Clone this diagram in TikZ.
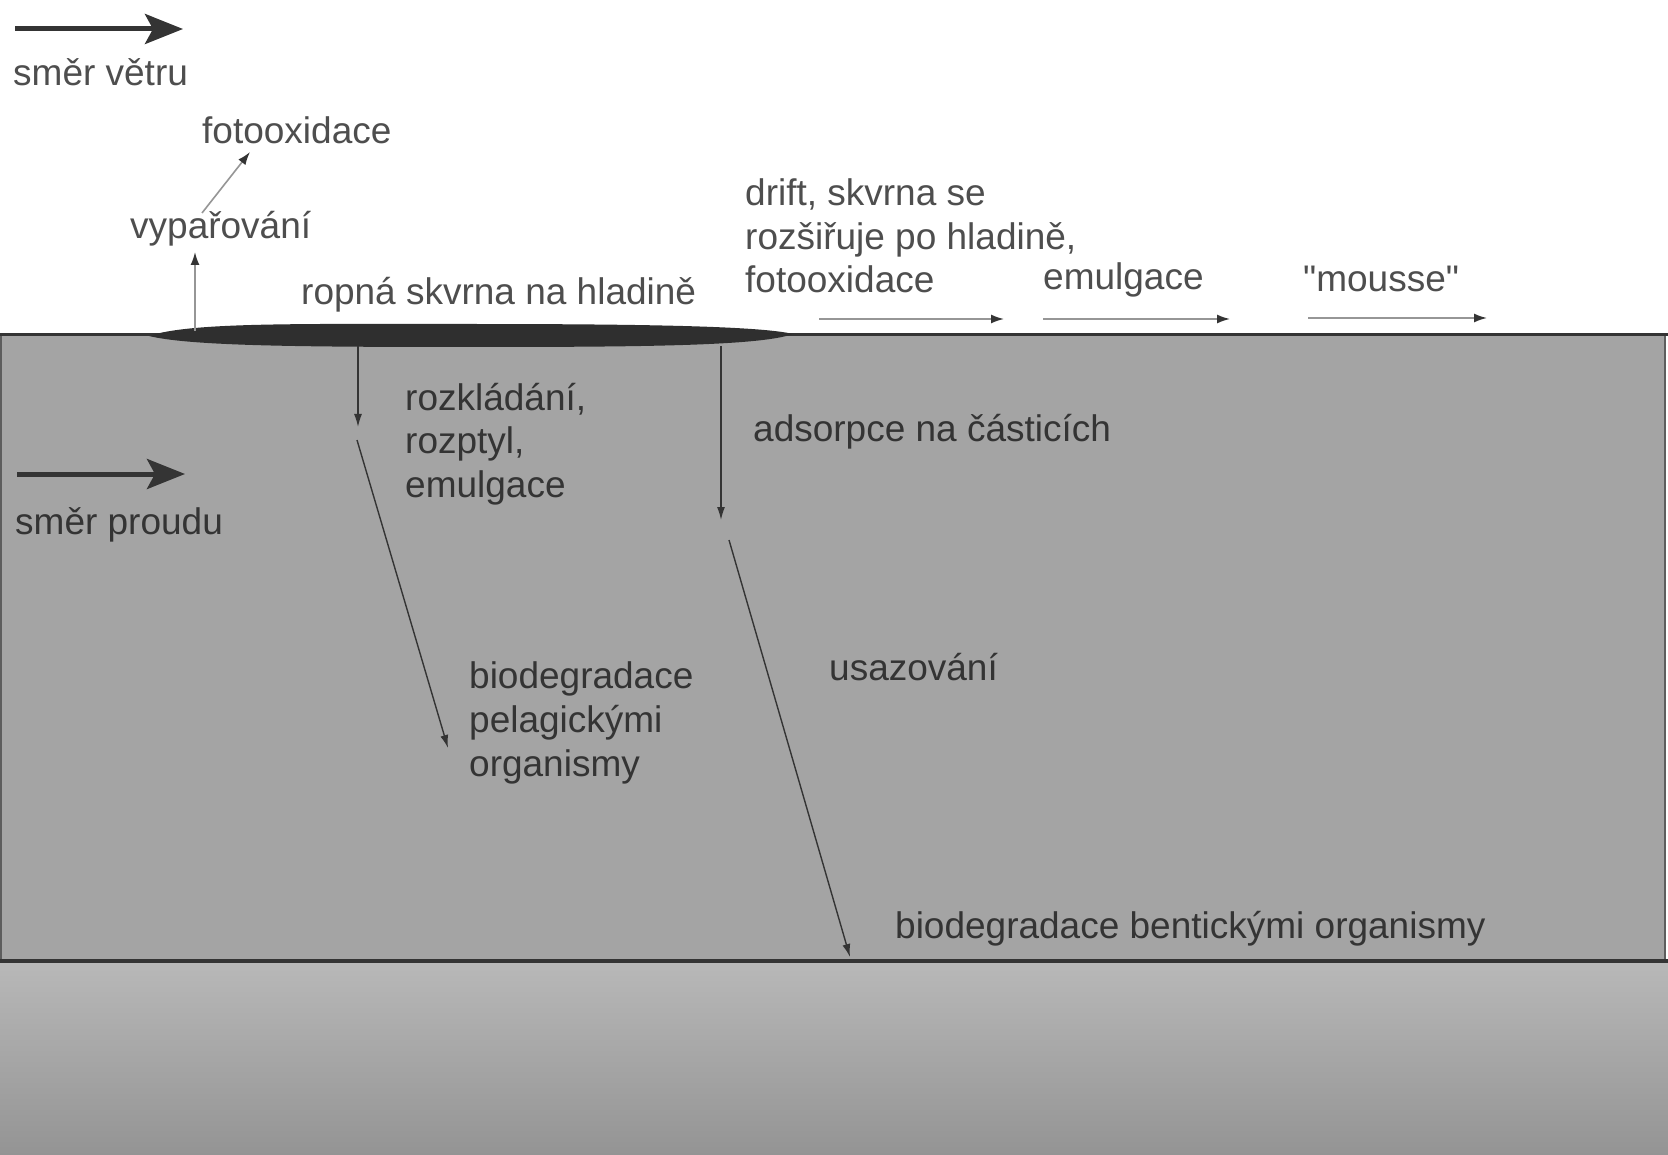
\documentclass[tikz,border=0pt]{standalone}
\usepackage{fontspec}
\setmainfont{Liberation Sans}[Ligatures=TeXOff]
\usetikzlibrary{arrows.meta}
\definecolor{water}{RGB}{164,164,164}
\definecolor{sedtop}{RGB}{184,184,184}
\definecolor{sedbot}{RGB}{148,148,148}
\definecolor{ink}{RGB}{52,52,52}
\definecolor{inkair}{RGB}{78,78,78}
\definecolor{shaft}{RGB}{150,150,150}
\begin{document}
\begin{tikzpicture}[x=1pt,y=-1pt,
  lbl/.style={anchor=west,inner sep=0pt,align=left,font=\fontsize{37}{43.6}\selectfont,text=ink},
  lblair/.style={lbl,text=inkair},
  deeparrow/.style={draw=ink,line width=1.4pt,-{Latex[length=13pt,width=8pt]}},
  airarrow/.style={draw=shaft,line width=1.6pt,-{Latex[length=13pt,width=9pt,color=ink]}},
  bigarrow/.style={draw=ink,line width=5pt,-{Stealth[length=38pt,width=30pt,inset=8pt]}},
]
\useasboundingbox (0,0) rectangle (1668,1155);
\fill[white] (0,0) rectangle (1668,1155);
% water and sediment
\fill[water] (0,335) rectangle (1666,961);
\shade[top color=sedtop,bottom color=sedbot] (0,962) rectangle (1668,1155);
\draw[ink!80,line width=1.2pt] (1,335) -- (1,961) (1665,335) -- (1665,961);
\draw[ink,line width=3pt] (0,335) -- (1668,335);
\draw[ink,line width=4pt] (0,961) -- (1668,961);
% oil slick
\fill[ink!90!black] (149,336) .. controls (190,322) and (300,324) .. (470,324)
  .. controls (640,324) and (760,326) .. (793,334)
  .. controls (760,346) and (640,347) .. (470,347)
  .. controls (300,347) and (190,346) .. (149,336) -- cycle;
% labels above water
\node[lblair] (wind) at (13,72) {směr větru};
\node[lblair] (foto1) at (202,130) {fotooxidace};
\node[lblair] (vypar) at (130,229) {vypařování};
\node[lblair] (ropna) at (301,295) {ropná skvrna na hladině};
\node[lblair] (drift) at (745,236) {drift, skvrna se\\rozšiřuje po hladině,\\fotooxidace};
\node[lblair] (emul1) at (1043,280) {emulgace};
\node[lblair] (mousse) at (1303,279) {"mousse"};
% labels in water
\node[lbl] (rozkl) at (405,444) {rozkládání,\\rozptyl,\\emulgace};
\node[lbl] (adsorp) at (753,432) {adsorpce na částicích};
\node[lbl] (proud) at (15,525) {směr proudu};
\node[lbl] (biopel) at (469,723) {biodegradace\\pelagickými\\organismy};
\node[lbl] (usaz) at (829,667) {usazování};
\node[lbl] (bioben) at (895,929) {biodegradace bentickými organismy};
% big direction arrows
\coordinate (w0) at (15,29);  \coordinate (w1) at (183,29);
\coordinate (c0) at (17,474); \coordinate (c1) at (185,474);
\draw[bigarrow] (w0) -- (w1);
\draw[bigarrow] (c0) -- (c1);
% evaporation / photo-oxidation
\coordinate (ev0) at (195,331); \coordinate (ev1) at (195,252);
\coordinate (fo0) at (202,213); \coordinate (fo1) at (250,152);
\draw[airarrow] (ev0) -- (ev1);
\draw[airarrow] (fo0) -- (fo1);
% drift arrows
\coordinate (d0) at (819,319);  \coordinate (d1) at (1004,319);
\coordinate (e0) at (1043,319); \coordinate (e1) at (1230,319);
\coordinate (m0) at (1308,318); \coordinate (m1) at (1487,318);
\draw[airarrow] (d0) -- (d1);
\draw[airarrow] (e0) -- (e1);
\draw[airarrow] (m0) -- (m1);
% arrows in water
\coordinate (l0) at (358,346); \coordinate (l1) at (358,427);
\coordinate (l2) at (357,440); \coordinate (l3) at (448,748);
\coordinate (r0) at (721,346); \coordinate (r1) at (721,520);
\coordinate (r2) at (729,540); \coordinate (r3) at (850,957);
\draw[deeparrow] (l0) -- (l1);
\draw[deeparrow] (l2) -- (l3);
\draw[deeparrow] (r0) -- (r1);
\draw[deeparrow] (r2) -- (r3);
\end{tikzpicture}
\end{document}
